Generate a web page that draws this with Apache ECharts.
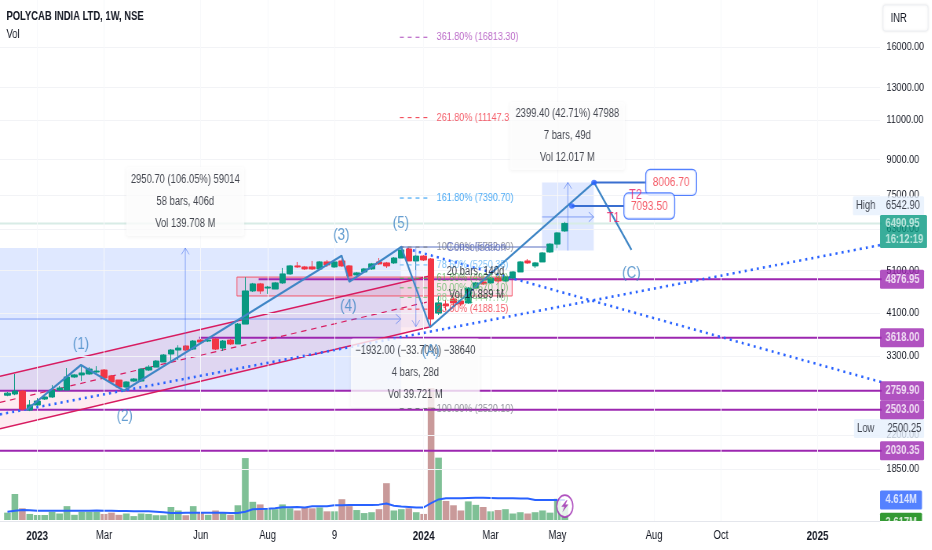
<!DOCTYPE html>
<html><head><meta charset="utf-8">
<style>html,body{margin:0;padding:0;background:#fff;overflow:hidden}#wrap{width:932px;height:550px;overflow:hidden}#c{width:1187.26px;height:550px;transform:scaleX(0.785);transform-origin:0 0}</style>
<script src="https://cdn.jsdelivr.net/npm/echarts@6/dist/echarts.min.js"></script>
</head><body><div id="wrap"><div id="c"></div></div>
<script>
// ---- Weekly candles (bar index 0..75) ----
const opens=[2698,2714,2755,2500,2566,2645,2673,2769,2769,2961,
2992,3007,3037,3068,2977,2915,2813,2900,2900,3068,
3114,3196,3330,3398,3469,3415,3576,3558,3594,3432,
3576,3505,3880,4596,4765,4665,4642,4789,5014,5224,
5197,5197,5144,5331,5197,5358,5224,4989,5065,5144,
5331,5304,5304,5439,5698,5358,5493,5412,4105,4301,
4412,4367,4323,4665,4813,4789,4912,4837,4912,5065,
5358,5224,5331,5610,5840,6247];
const closes=[2726,2755,2513,2566,2618,2673,2769,2798,2961,2992,
3022,3083,3052,2945,2886,2813,2886,2930,3083,3114,
3212,3313,3398,3432,3398,3558,3540,3576,3415,3558,
3505,3880,4596,4765,4596,4688,4789,5014,5224,5197,
5144,5144,5331,5251,5331,5224,4963,5040,5144,5278,
5278,5224,5439,5668,5358,5493,5385,3983,4324,4258,
4323,4301,4665,4789,4765,4909,4837,4938,5065,5331,
5304,5304,5582,5840,6184,6490.95];
const lows=[2684,2698,2500,2487,2553,2632,2659,2755,2769,2945,
2900,2992,2992,2930,2871,2798,2769,2886,2886,3052,
3114,3196,3212,3229,3381,3398,3522,3540,3398,3381,
3487,3505,3880,4573,4527,4527,4642,4765,4989,5170,
5117,5117,5117,5197,5170,5197,4938,4912,5040,5117,
5251,5170,5278,5439,5358,5117,5358,3840,4064,4170,
4258,4258,4301,4642,4741,4765,4765,4813,4886,5065,
5278,5170,5331,5582,5720,6215];
const highs=[2741,3007,2769,2632,2659,2684,2842,2827,3099,3007,
3130,3114,3130,3083,2992,2915,2900,2945,3099,3146,
3229,3330,3415,3483,3483,3576,3594,3594,3612,3576,
3594,3900,4930,4789,4789,4717,4813,5170,5250,5330,
5224,5358,5358,5385,5358,5520,5250,5065,5170,5304,
5439,5331,5466,5698,5728,5520,5520,5439,4480,4389,
4459,4389,4689,4813,4861,4934,4963,4963,5091,5358,
5412,5331,5610,5870,6215,6542.9];
const volumes=[1.7,6.0,2.7,1.4,1.15,1.15,1.9,1.5,3.2,1.2,
1.9,1.9,1.9,1.4,1.7,1.2,1.5,0.9,1.5,1.4,
1.1,1.1,3.0,2.2,1.1,3.2,1.6,1.2,2.2,1.7,
1.2,3.4,14.3,4.2,3.6,2.5,2.5,3.6,2.7,2.2,
2.9,2.7,2.9,2.0,2.0,4.8,3.2,2.3,1.6,1.8,
2.5,8.5,2.2,2.5,2.7,1.8,1.4,30.5,14.4,4.4,
3.4,2.2,4.3,3.5,3.0,2.0,2.3,2.5,1.5,1.8,
1.5,1.8,2.2,1.7,4.9,3.617];
const volumeMA=[1.9,2.15,2.3,2.25,2.15,2.15,2.15,2.15,2.15,2.15,
2.15,2.15,2.2,2.15,2.15,2.1,2.1,2.0,2.0,2.0,
1.9,1.8,1.6,1.6,1.7,1.7,1.7,1.7,1.7,1.7,
1.6,1.6,1.9,2.5,2.55,2.6,2.7,2.95,2.95,3.0,
2.9,3.15,3.2,3.2,3.4,3.4,3.45,3.45,3.45,3.45,
3.55,3.8,3.3,3.1,3.0,2.9,2.9,3.9,4.75,5.0,
5.0,5.0,5.1,5.15,5.15,5.1,5.0,5.0,5.0,4.95,
4.95,4.6,4.6,4.6,4.6,4.614];
// ---- Axis ticks ----
const yTickValues=[16000,13000,11000,9000,7500,6300,5100,4100,3300,2200,1850];
const xTickBars=[4,13,26,35,44,56,65,74,87,96,109];
const xTickLabels=['2023','Mar','Jun','Aug','9','2024','Mar','May','Aug','Oct','2025'];
const xBold=['2023','2024','2025'];
// ---- Drawings: [bar, price] ----
const wavePoints=[[2.54,2500],[9.89,3148],[15.68,2759.9],[44.96,5505],[45.99,4819],[52.98,5752.6],[56.86,3820.6],[78.92,8006.7],[83.96,5668]];
const channelTop=[[-1,2972],[56.8,4963]];
const channelMid=[[-1,2600],[56.8,4356]];
const channelBottom=[[-1,2273],[56.8,3822]];
const dottedRise=[[-1,2446],[118,5835]];
const dottedFall=[[52.94,5756],[118,2871]];
const supportLevels=[[33.8,4876.95],[25.8,3618],[-1,2759.9],[-1,2503],[-1,2030.35]];
const fibLevels=[[361.8,16813.3],[261.8,11147.3],[161.8,7390.7],[100,5752.6],[78.6,5250.35],[61.8,4904.9],[50,4670.1],[38.2,4447.7],[23.6,4188.15],[-100,2520.1]];
const fibNames=['361.80% (16813.30)','261.80% (11147.3','161.80% (7390.70)','100.00% (5752.60)','78.60% (5250.35)','61.80% (4904.90)','50.00% (4670.10)','38.20% (4447.70)','23.60% (4188.15)','100.00% (2520.10)'];
const fibColors=['#ab47bc','#f23645','#2196f3','#787b86','#64b5f6','#4caf50','#66bb6a','#81c784','#f23645','#787b86'];
const waveLabels=[[9.89,3505,'(1)'],[15.78,2424,'(2)'],[44.92,6120,'(3)'],[45.86,4258,'(4)'],[52.94,6507,'(5)'],[56.95,3368,'(A)'],[83.96,5040,'(C)']];
const targetLabels=[[81.5,6665,'T1'],[84.5,7507,'T2']];
const targetBoxes=[[89.3,8006.7,'8006.70'],[86.36,7093.5,'7093.50']];
const targetLinks=[[[75.94,7093.5],[82.9,7093.5]],[[78.92,8006.7],[85.8,8006.7]]];
const statBoxes=[[23.93,7262,'2950.70 (106.05%) 59014\n58 bars, 406d\nVol 139.708 M',118,69],[75.33,10151,'2399.40 (42.71%) 47988\n7 bars, 49d\nVol 12.017 M',115,68],[54.88,3021,'\u22121932.00 (\u221233.70%) \u221238640\n4 bars, 28d\nVol 39.721 M',129,69]];
const priceTags=[[4876.95,'#9c27b0'],[3618,'#9c27b0'],[2759.9,'#9c27b0'],[2503,'#9c27b0'],[2030.35,'#9c27b0']];

const F="'Liberation Sans',sans-serif";
const INK='#131722';
const XMIN=-1, XMAX=117.4;
const SX=0.785, X=v=>v/SX;
const chart=echarts.init(document.getElementById('c'),null,{renderer:'canvas',width:932/SX,height:550});

function lineS(pts,color,width,type,z,extra){
  return Object.assign({type:'line',data:pts,symbol:'none',silent:true,animation:false,clip:true,z:z,
    lineStyle:{color:color,width:width,type:type||'solid'}},extra||{});
}
function rectS(x1,p1,x2,p2,fill,stroke,z){
  return {type:'custom',silent:true,animation:false,z:z,clip:true,encode:{x:[0,2],y:[1,3]},data:[[x1,p1,x2,p2]],
    renderItem:function(_,api){
      const a=api.coord([api.value(0),api.value(1)]),b=api.coord([api.value(2),api.value(3)]);
      return {type:'rect',shape:{x:Math.min(a[0],b[0]),y:Math.min(a[1],b[1]),width:Math.abs(a[0]-b[0]),height:Math.abs(a[1]-b[1])},
        style:{fill:fill,stroke:stroke||null,lineWidth:1}};
    }};
}
function polyS(topPts,botPts,fill,z){
  const r=[[topPts[0][0],topPts[0][1],topPts[1][0],topPts[1][1],botPts[1][0],botPts[1][1],botPts[0][0],botPts[0][1]]];
  return {type:'custom',silent:true,animation:false,z:z,clip:true,encode:{x:[0,2],y:[1,3]},data:r,
    renderItem:function(_,api){
      const p=[];for(let i=0;i<8;i+=2)p.push(api.coord([api.value(i),api.value(i+1)]));
      return {type:'polygon',shape:{points:p},style:{fill:fill}};
    }};
}
function arrowS(x1,p1,x2,p2,color,z,w){
  return {type:'custom',silent:true,animation:false,z:z,clip:true,encode:{x:[0,2],y:[1,3]},data:[[x1,p1,x2,p2]],
    renderItem:function(_,api){
      const a=api.coord([api.value(0),api.value(1)]),b=api.coord([api.value(2),api.value(3)]);
      const ang=Math.atan2(b[1]-a[1],b[0]-a[0]),h=8;
      const l=[b[0]-h*Math.cos(ang-0.65),b[1]-h*Math.sin(ang-0.65)],r=[b[0]-h*Math.cos(ang+0.65),b[1]-h*Math.sin(ang+0.65)];
      const st={stroke:color,lineWidth:w||1,fill:null};
      return {type:'group',children:[
        {type:'line',shape:{x1:a[0],y1:a[1],x2:b[0],y2:b[1]},style:st},
        {type:'polyline',shape:{points:[l,b,r]},style:st}]};
    }};
}
function labelS(items,label,z,idx){
  return {type:'scatter',silent:true,animation:false,clip:false,z:z,symbolSize:1,itemStyle:{color:'transparent'},
    xAxisIndex:idx||0,yAxisIndex:idx||0,
    data:items.map(i=>({value:[i[0],i[1]],name:i[2],label:i[3]||undefined})),
    label:Object.assign({show:true,position:'inside',formatter:p=>p.name,fontFamily:F},label)};
}

const series=[];
// faint grid + y-axis labels
series.push({type:'line',data:[],silent:true,animation:false,z:0,markLine:{silent:true,animation:false,symbol:'none',
  lineStyle:{color:'#f2f3f6',width:1,type:'solid'},
  label:{show:true,position:'end',distance:X(6.5),color:INK,fontFamily:F,fontSize:11.5,formatter:p=>p.data.yAxis!==undefined?Number(p.data.yAxis).toFixed(2):''},
  data:yTickValues.map(v=>({yAxis:v})).concat(xTickBars.map(v=>({xAxis:v,label:{show:false},lineStyle:{color:'#f8f9fb'}})))}});
// zones
series.push(rectS(XMIN,2769,52.94,5725,'rgba(41,98,255,0.15)',null,1));
series.push(rectS(52.94,5747,56.86,3816,'rgba(41,98,255,0.05)',null,1));
series.push(rectS(71.93,5650,78.88,8006.7,'rgba(41,98,255,0.15)',null,1));
series.push(polyS(channelTop,channelBottom,'rgba(233,30,99,0.09)',2));
series.push(rectS(30.88,4934,67.9,4480,'rgba(233,30,99,0.12)','#f4566a',2));
// volume pane
series.push({type:'bar',xAxisIndex:1,yAxisIndex:1,barWidth:X(6.7),silent:true,animation:false,z:2,
  data:volumes.map((v,i)=>({value:[i,v],itemStyle:{color:closes[i]>=opens[i]?'#7fc096':'#c99a9a'}}))});
series.push(lineS(volumeMA.map((v,i)=>[i,v]),'#2962ff',2,'solid',3,{xAxisIndex:1,yAxisIndex:1}));
// last price line
series.push(lineS([[XMIN,closes[75]],[118,closes[75]]],'#d8ece6',2,'solid',3));
// support levels
supportLevels.forEach(s=>series.push(lineS([[s[0],s[1]],[118,s[1]]],'#9c27b0',2,'solid',4)));
// channel + trend lines
series.push(lineS(channelTop,'#d81b60',1.5,'solid',4));
series.push(lineS(channelBottom,'#d81b60',1.5,'solid',4));
series.push(lineS(channelMid,'#d81b60',1.2,[7,6],4));
series.push(lineS(dottedRise,'#2962ff',2.6,[2.6,5.2],5));
series.push(lineS(dottedFall,'#2962ff',2.6,[2.6,5.2],5));
// candles
series.push({type:'candlestick',silent:true,animation:false,z:6,barWidth:X(6.2),clip:true,encode:{x:0,y:[1,2,3,4]},
  data:opens.map((o,i)=>[i,o,closes[i],lows[i],highs[i]]),
  itemStyle:{color:'#089981',color0:'#f23645',borderColor:'#089981',borderColor0:'#f23645',borderWidth:1}});
// range arrows
const AC='rgba(80,120,240,0.65)';
series.push(arrowS(23.93,2769,23.93,5725,AC,7));
series.push(arrowS(XMIN,3982,52.94,3982,AC,7));
series.push(arrowS(54.95,5747,54.95,3830,AC,7));
series.push(arrowS(75.4,5650,75.4,8006.7,AC,7));
series.push(arrowS(71.93,6710,78.88,6710,AC,7));
series.push(lineS([[52.98,5752.6],[72.6,5752.6]],'#8f9fd6',1.6,'solid',7));
// fib dashes
fibLevels.forEach((f,i)=>series.push(lineS([[52.8,f[1]],[i===9?57.6:56.9,f[1]]],fibColors[i],1,[5,5],i===9?12:7)));
// wave
series.push(lineS(wavePoints,'#3f86c6',2.2,'solid',8));
targetLinks.forEach(l=>series.push(lineS(l,'#3a6fd0',2,'solid',8)));
series.push({type:'scatter',silent:true,animation:false,z:9,symbolSize:[X(5.5),5.5],itemStyle:{color:'#2962ff'},data:[targetLinks[0][0],targetLinks[1][0]]});
// stat boxes
statBoxes.forEach(b=>series.push(labelS([[b[0],b[1],b[2]]],{align:'center',verticalAlign:'middle',color:INK,fontSize:12,lineHeight:22,
  width:X(b[3]),height:b[4],backgroundColor:'rgba(255,255,255,0.97)',borderRadius:3,shadowBlur:4,shadowColor:'rgba(0,0,0,0.07)',shadowOffsetY:1},10)));
// fib labels
series.push(labelS(fibLevels.map((f,i)=>[57.75,f[1],fibNames[i],{color:fibColors[i]}]),{align:'left',verticalAlign:'middle',fontSize:11.5},12));
series.push(labelS([[59.09,5752.6,'Consolidation',{color:'#5c6bc0',align:'left',fontSize:12.5}]],{verticalAlign:'middle'},12));
series.push(labelS([[59.09,5060,'20 bars, 140d'],[59.4,4520,'Vol 10.889 M']],{align:'left',verticalAlign:'middle',color:INK,fontSize:12},13));
// target boxes
targetBoxes.forEach((b,i)=>series.push(labelS([[b[0],b[1],b[2]]],{align:'center',verticalAlign:'middle',color:'#f23645',fontSize:13,
  width:X(50),height:25,lineHeight:25,backgroundColor:'#fff',borderColor:'#2962ff',borderWidth:1.2,borderRadius:5},11+i)));
series.push(labelS(targetLabels,{align:'center',verticalAlign:'middle',color:'#e91e63',fontSize:14},14));
// wave labels
series.push(labelS(waveLabels,{align:'center',verticalAlign:'middle',color:'#3f86c6',fontSize:17},14));
// tags
series.push(labelS(priceTags.map(t=>[XMAX,t[0],t[0].toFixed(2)]),{align:'left',verticalAlign:'middle',color:'#fff',fontSize:12,fontWeight:'bold',
  width:X(38.5),height:19,lineHeight:19,padding:[0,0,0,X(5.5)],backgroundColor:'#9c27b0',borderRadius:1.5},20));
series.push(labelS([[XMAX,highs[75],'High    '+highs[75].toFixed(2)]],{align:'left',verticalAlign:'middle',color:INK,fontSize:12,
  offset:[X(-27),-16],width:X(68),height:19,lineHeight:19,padding:[0,0,0,X(3)],backgroundColor:'#e6f0fd',borderRadius:1.5},19));
series.push(labelS([[XMAX,closes[75],closes[75].toFixed(2)+'\n16:12:19']],{align:'left',verticalAlign:'middle',color:'#dff5ef',fontSize:12,fontWeight:'bold',
  offset:[0,8],width:X(41.5),height:33,lineHeight:16,padding:[0,0,0,X(5.5)],backgroundColor:'#089981',borderRadius:1.5},21));
series.push(labelS([[XMAX,2500.25,'Low     2500.25']],{align:'left',verticalAlign:'middle',color:INK,fontSize:12,
  offset:[X(-26),18.5],width:X(67),height:19,lineHeight:19,padding:[0,0,0,X(3)],backgroundColor:'#e6f0fd',borderRadius:1.5},19));
series.push(labelS([[XMAX,4.614,'4.614M']],{align:'left',verticalAlign:'middle',color:'#fff',fontSize:12,fontWeight:'bold',
  width:X(36.5),height:19,lineHeight:19,padding:[0,0,0,X(5.5)],backgroundColor:'#2962ff',borderRadius:1.5},21,1));
series.push(labelS([[XMAX,3.617,'3.617M']],{align:'left',verticalAlign:'middle',color:'#fff',fontSize:12,fontWeight:'bold',
  offset:[0,18],width:X(36.5),height:19,lineHeight:19,padding:[0,0,0,X(5.5)],backgroundColor:'#008000',borderRadius:1.5},20,1));
// lightning
series.push({type:'scatter',xAxisIndex:1,yAxisIndex:1,silent:true,animation:false,z:15,symbol:'circle',symbolSize:[X(16),22],
  itemStyle:{color:'#fff',borderColor:'#9c27b0',borderWidth:1.6},data:[[75,3.2]]});
series.push({type:'scatter',xAxisIndex:1,yAxisIndex:1,silent:true,animation:false,z:16,
  symbol:'path://M6 0 L1 6 L4 6 L2 11 L8 4 L5 4 L7 0 Z',symbolSize:[X(7),12],itemStyle:{color:'#9c27b0'},data:[[75,3.2]]});

chart.setOption({
  animation:false,backgroundColor:'#fff',
  title:{text:'POLYCAB INDIA LTD, 1W, NSE',subtext:'Vol',left:X(6.5),top:11,itemGap:6,padding:0,
    textStyle:{fontFamily:F,fontSize:12,fontWeight:'bold',color:INK},
    subtextStyle:{fontFamily:F,fontSize:12,color:INK}},
  grid:[{left:X(-5.48),top:0,width:X(885.48),height:521},{left:X(-5.48),top:380,width:X(885.48),height:140}],
  xAxis:[{type:'value',gridIndex:0,min:XMIN,max:XMAX,interval:1,splitLine:{show:false},axisTick:{show:false},
      axisLine:{show:true,onZero:false,lineStyle:{color:'#e4e6ec'}},
      axisLabel:{show:true,margin:9,showMinLabel:false,showMaxLabel:false,hideOverlap:false,color:INK,fontFamily:F,fontSize:12,
        rich:{b:{fontWeight:'bold',fontSize:12.5,fontFamily:F,color:INK}},
        formatter:function(v){const i=xTickBars.indexOf(Math.round(v));if(i<0||Math.abs(v-Math.round(v))>1e-6)return '';const t=xTickLabels[i];return xBold.includes(t)?'{b|'+t+'}':t;}}},
    {type:'value',gridIndex:1,min:XMIN,max:XMAX,show:false,splitLine:{show:false}}],
  yAxis:[{type:'log',gridIndex:0,min:1418,max:20340,position:'right',logBase:10,axisLine:{show:false},axisTick:{show:false},axisLabel:{show:false},splitLine:{show:false},minorSplitLine:{show:false}},
    {type:'value',gridIndex:1,min:0,max:32.33,show:false,splitLine:{show:false}}],
  graphic:[
    {type:'rect',z:30,shape:{x:X(883),y:5,width:X(45),height:26,r:3},style:{fill:'#fff',stroke:'#eef0f4',lineWidth:1,shadowBlur:3,shadowColor:'rgba(0,0,0,0.08)'},silent:true},
    {type:'text',z:31,x:X(890.5),y:12.5,style:{text:'INR',font:"12px "+F,fill:INK},silent:true},
    {type:'rect',z:30,shape:{x:X(880),y:521,width:X(52),height:12},style:{fill:'#fff'},silent:true}
  ],
  series:series
});
</script></body></html>
